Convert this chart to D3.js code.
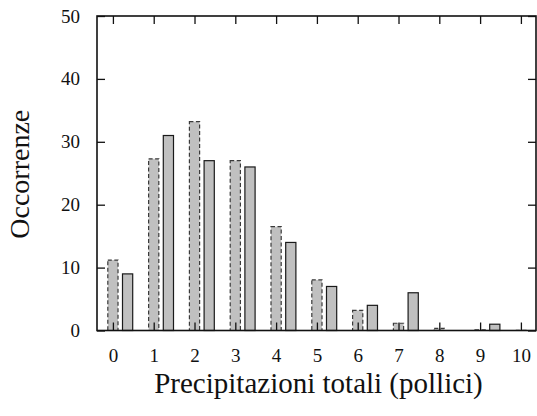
<!DOCTYPE html>
<html>
<head>
<meta charset="utf-8">
<script src="https://cdn.jsdelivr.net/npm/d3@7"></script>
<style>
  html, body { margin: 0; padding: 0; background: #fff; }
  svg text { font-family: "Liberation Serif", "DejaVu Serif", serif; font-variant-numeric: oldstyle-nums; fill: #111; }
</style>
</head>
<body>
<svg id="chart" width="537" height="416"></svg>
<script>
// Precipitation totals (inches) and how often each occurred
const categories = [0, 1, 2, 3, 4, 5, 6, 7, 8, 9, 10];
const expected = [11.2, 27.3, 33.2, 27.0, 16.5, 8.05, 3.2, 1.15, 0.35, 0.1, 0.02];
const observed = [9, 31, 27, 26, 14, 7, 4, 6, 0, 1, 0];
const xTicks = [0, 1, 2, 3, 4, 5, 6, 7, 8, 9, 10];
const yTicks = [0, 10, 20, 30, 40, 50];

const svg = d3.select("#chart");
const plotLeft = 97, plotRight = 536, plotTop = 16, plotBottom = 330.5;

const x = d3.scaleLinear().domain([-0.39, 10.37]).range([plotLeft, plotRight]);
const y = d3.scaleLinear().domain([0, 50]).range([plotBottom, plotTop]);

const barW = 0.25;
const offset = 0.36;
const fill = "#c0c0c0";

// expected counts: dashed outline, centred on the category
svg.append("g").selectAll("rect")
  .data(categories.map((c, i) => ({ c, v: expected[i] })))
  .join("rect")
  .attr("x", d => x(d.c - barW / 2))
  .attr("width", d => x(barW) - x(0))
  .attr("y", d => y(d.v))
  .attr("height", d => y(0) - y(d.v))
  .attr("fill", fill)
  .attr("stroke", "#3a3a3a")
  .attr("stroke-width", 1.2)
  .attr("stroke-dasharray", "4,2.5");

// observed counts: solid outline, shifted right
svg.append("g").selectAll("rect")
  .data(categories.map((c, i) => ({ c, v: observed[i] })).filter(d => d.v > 0))
  .join("rect")
  .attr("x", d => x(d.c + offset - barW / 2))
  .attr("width", d => x(barW) - x(0))
  .attr("y", d => y(d.v))
  .attr("height", d => y(0) - y(d.v))
  .attr("fill", fill)
  .attr("stroke", "#1a1a1a")
  .attr("stroke-width", 1.2);

// axes with inward ticks on all four sides
const tickLen = 8;
const bottomAxis = d3.axisBottom(x).tickValues(xTicks).tickSize(-tickLen).tickPadding(18).tickFormat(d3.format("d"));
const topAxis = d3.axisTop(x).tickValues(xTicks).tickSize(-tickLen).tickFormat("");
const leftAxis = d3.axisLeft(y).tickValues(yTicks).tickSize(-tickLen).tickPadding(17).tickFormat(d3.format("d"));
const rightAxis = d3.axisRight(y).tickValues(yTicks).tickSize(-tickLen).tickFormat("");

function style(g) {
  g.select(".domain").remove();
  g.selectAll(".tick line").attr("stroke", "#111").attr("stroke-width", 1.3);
  g.selectAll(".tick text").attr("font-size", 19).attr("fill", "#111");
}

svg.append("g").attr("transform", `translate(0,${plotBottom})`).call(bottomAxis).call(style);
svg.append("g").attr("transform", `translate(0,${plotTop})`).call(topAxis).call(style);
svg.append("g").attr("transform", `translate(${plotLeft},0)`).call(leftAxis).call(style);
svg.append("g").attr("transform", `translate(${plotRight},0)`).call(rightAxis).call(style);

svg.selectAll("text").attr("font-family", "Liberation Serif, DejaVu Serif, serif");

// frame
svg.append("rect")
  .attr("x", plotLeft).attr("y", plotTop)
  .attr("width", plotRight - plotLeft).attr("height", plotBottom - plotTop)
  .attr("fill", "none").attr("stroke", "#111").attr("stroke-width", 1.6);

// axis titles
svg.append("text")
  .attr("x", (plotLeft + plotRight) / 2 + 2)
  .attr("y", 393)
  .attr("text-anchor", "middle")
  .attr("font-size", 29)
  .text("Precipitazioni totali (pollici)");

svg.append("text")
  .attr("transform", `translate(29,${(plotTop + plotBottom) / 2 + 1}) rotate(-90)`)
  .attr("text-anchor", "middle")
  .attr("font-size", 28)
  .text("Occorrenze");
</script>
</body>
</html>
